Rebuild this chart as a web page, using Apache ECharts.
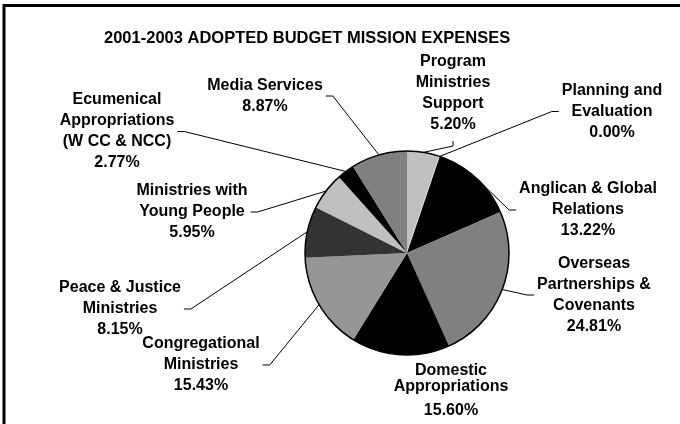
<!DOCTYPE html>
<html><head><meta charset="utf-8">
<script src="https://cdn.jsdelivr.net/npm/echarts@6/dist/echarts.min.js"></script>
<style>html,body{margin:0;padding:0;background:#fff}#c{width:680px;height:424px}</style>
</head><body><div id="c"></div><script>
const titleText = '2001-2003 ADOPTED BUDGET MISSION EXPENSES';
const categories = ['Program\nMinistries\nSupport', 'Planning and\nEvaluation', 'Anglican & Global\nRelations', 'Overseas\nPartnerships &\nCovenants', 'Domestic\nAppropriations', 'Congregational\nMinistries', 'Peace & Justice\nMinistries', 'Ministries with\nYoung People', 'Ecumenical\nAppropriations\n(W CC & NCC)', 'Media Services'];
const values = [5.20, 0.00, 13.22, 24.81, 15.60, 15.43, 8.15, 5.95, 2.77, 8.87];
const colors = ['#c0c0c0', '#ffffff', '#000000', '#808080', '#000000', '#969696', '#333333', '#c0c0c0', '#000000', '#808080'];

// label placement (layout/styling only)
const labelCenters = [[453, 93], [612, 111.5], [588, 210], [594, 295], [451, 394.5], [201, 365], [120, 309], [192, 212], [117, 131.5], [265, 96]];
const labelSides = ['T', 'R', 'R', 'R', 'N', 'L', 'L', 'L', 'L', 'L'];

const FONT = "'Liberation Sans', Arial, sans-serif";
const chart = echarts.init(document.getElementById('c'), null, {renderer: 'canvas'});

const data = values.map((v, i) => {
  const d = {value: v, name: categories[i], itemStyle: {color: colors[i]}};
  if (i === 1) d.itemStyle = {color: '#ffffff', borderColor: '#ffffff', borderWidth: 1};
  if (labelSides[i] === 'N') d.labelLine = {show: false};
  return d;
});

chart.setOption({
  animation: false,
  backgroundColor: '#ffffff',
  title: {
    text: titleText, left: 99, top: 25,
    textStyle: {fontFamily: FONT, fontSize: 16.5, fontWeight: 'bold', color: '#000'}
  },
  graphic: [{
    type: 'rect', silent: true,
    shape: {x: 4, y: 5.5, width: 720, height: 460},
    style: {fill: 'none', stroke: '#000', lineWidth: 3}
  }],
  series: [{
    type: 'pie',
    center: [407, 253],
    radius: 102,
    startAngle: 90,
    clockwise: true,
    avoidLabelOverlap: false,
    silent: true,
    data: data,
    itemStyle: {borderWidth: 0},
    label: {
      show: true,
      position: 'outside',
      fontFamily: FONT, fontSize: 16, fontWeight: 'bold', color: '#000',
      lineHeight: 21, align: 'center',
      formatter: function (p) {
        const pct = values[p.dataIndex].toFixed(2) + '%';
        if (labelSides[p.dataIndex] === 'N') {
          return p.name.split('\n').map(s => '{d|' + s + '}').join('\n') + '\n{dp|' + pct + '}';
        }
        return p.name + '\n' + pct;
      },
      rich: {
        d: {fontFamily: FONT, fontSize: 16, fontWeight: 'bold', color: '#000', lineHeight: 16},
        dp: {fontFamily: FONT, fontSize: 16, fontWeight: 'bold', color: '#000', lineHeight: 32}
      }
    },
    labelLine: {show: true, length: 10, length2: 10, lineStyle: {color: '#000', width: 1}},
    labelLayout: function (p) {
      const i = p.dataIndex;
      const c = labelCenters[i];
      const w = p.labelRect.width, h = p.labelRect.height;
      const res = {x: c[0], y: c[1], align: 'center', verticalAlign: 'middle'};
      const side = labelSides[i];
      if (p.labelLinePoints && side !== 'N') {
        const s = p.labelLinePoints[0];
        let e, b;
        if (side === 'R') { e = [c[0] - w / 2 - 3, c[1]]; b = [e[0] - 7, e[1]]; }
        else if (side === 'L') { e = [c[0] + w / 2 + 3, c[1]]; b = [e[0] + 7, e[1]]; }
        else { e = [c[0], c[1] + h / 2 + 6]; b = [c[0], e[1] + 5]; }
        res.labelLinePoints = [[s[0], s[1]], b, e];
      }
      return res;
    }
  }, {
    type: 'pie',
    center: [407, 253],
    radius: 102,
    silent: true,
    z: 3,
    data: [{value: 1, name: 'outline'}],
    label: {show: false},
    labelLine: {show: false},
    itemStyle: {color: 'rgba(0,0,0,0)', borderColor: '#000', borderWidth: 1.5},
    emphasis: {disabled: true}
  }]
});
</script></body></html>
